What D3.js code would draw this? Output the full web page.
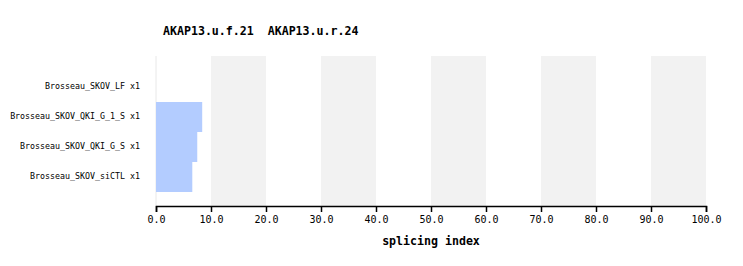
<!doctype html>
<html lang="en">
  <head>
    <meta charset="utf-8">
    <title>AKAP13 splicing index</title>
    <script src="https://d3js.org/d3.v7.min.js"></script>
    <style>
      body { margin: 0; background: white; }
      text { font-family: "DejaVu Sans Mono", monospace; fill: black; }
    </style>
  </head>
  <body>
    <svg width="743" height="266"></svg>
    <script>
      var samples = ['Brosseau_SKOV_LF x1', 'Brosseau_SKOV_QKI_G_1_S x1', 'Brosseau_SKOV_QKI_G_S x1', 'Brosseau_SKOV_siCTL x1'];
      var values = [0, 8.4, 7.5, 6.6];
      var ticks = [0, 10, 20, 30, 40, 50, 60, 70, 80, 90, 100];
      var bands = [10, 30, 50, 70, 90];

      var svg = d3.select('svg');

      var x = d3.scaleLinear().domain([0, 100]).range([156, 706]);
      var y = d3.scaleBand().domain(samples).range([72, 192]);

      // alternating grey stripes
      svg.selectAll('rect.band').data(bands).enter()
        .append('rect')
        .attr('x', function(d){ return x(d); })
        .attr('y', 56)
        .attr('width', function(d){ return x(d + 10) - x(d); })
        .attr('height', 150)
        .style('fill', '#f2f2f2');

      svg.append('line')
        .attr('x1', x(0)).attr('x2', x(0))
        .attr('y1', 56).attr('y2', 206)
        .style('stroke', '#e8e8e8');

      svg.selectAll('rect.bar').data(values).enter()
        .append('rect')
        .attr('x', x(0))
        .attr('y', function(d, i){ return y(samples[i]); })
        .attr('width', function(d){ return x(d) - x(0); })
        .attr('height', y.bandwidth())
        .style('fill', '#b3ccff');

      svg.selectAll('text.label').data(samples).enter()
        .append('text')
        .attr('x', 140)
        .attr('y', function(d){ return y(d) + y.bandwidth() / 2 + 1.5; })
        .attr('text-anchor', 'end')
        .style('font-size', '8.3px')
        .text(function(d){ return d; });

      var axis = d3.axisBottom(x)
        .tickValues(ticks)
        .tickSize(6)
        .tickFormat(d3.format('.1f'));

      var g = svg.append('g')
        .attr('transform', 'translate(0, 206)')
        .call(axis);
      g.select('.domain').attr('stroke', 'black').attr('stroke-width', 1.5);
      g.selectAll('.tick line').attr('stroke', 'black').attr('stroke-width', 1.5);
      g.selectAll('.tick text')
        .attr('y', 10)
        .style('font-family', '"DejaVu Sans Mono", monospace')
        .style('font-size', '10px');

      svg.append('text')
        .attr('x', x(50))
        .attr('y', 245)
        .attr('text-anchor', 'middle')
        .style('font-size', '11.6px')
        .style('font-weight', 'bold')
        .text('splicing index');

      svg.append('text')
        .attr('x', 163)
        .attr('y', 35)
        .style('font-size', '11.6px')
        .style('font-weight', 'bold')
        .style('white-space', 'pre')
        .text('AKAP13.u.f.21  AKAP13.u.r.24');
    </script>
  </body>
</html>
